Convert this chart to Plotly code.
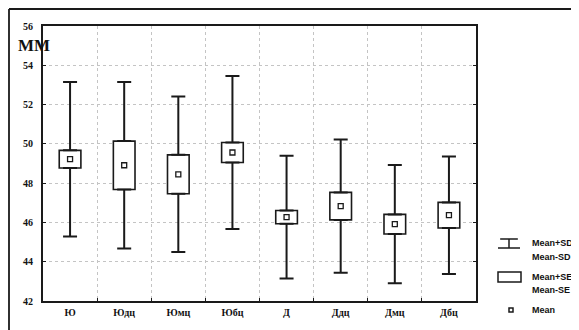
import plotly.graph_objects as go

categories = ["Ю", "Юдц", "Юмц", "Юбц", "Д", "Ддц", "Дмц", "Дбц"]
means = [49.22, 48.91, 48.45, 49.56, 46.27, 46.83, 45.91, 46.37]
sd = [3.93, 4.24, 3.96, 3.89, 3.12, 3.39, 3.01, 2.99]
se = [0.45, 1.23, 0.99, 0.51, 0.34, 0.70, 0.50, 0.65]
y_ticks = [42, 44, 46, 48, 50, 52, 54, 56]

xpos = [i + 0.5 for i in range(len(categories))]
upper_box = [m + s for m, s in zip(means, se)]
lower_box = [m - s for m, s in zip(means, se)]
upper_whisk = [d - s for d, s in zip(sd, se)]
zeros = [0] * len(categories)

LINE = "#1a1a1a"
fig = go.Figure()

# upper whiskers (box top to mean+SD)
fig.add_trace(go.Scatter(
    x=xpos, y=upper_box, mode="markers", marker=dict(size=1, color="rgba(0,0,0,0)"),
    error_y=dict(type="data", symmetric=False, array=upper_whisk, arrayminus=zeros,
                 color=LINE, thickness=2, width=7),
    showlegend=False, hoverinfo="skip"))
# lower whiskers (mean-SD to box bottom)
fig.add_trace(go.Scatter(
    x=xpos, y=lower_box, mode="markers", marker=dict(size=1, color="rgba(0,0,0,0)"),
    error_y=dict(type="data", symmetric=False, array=zeros, arrayminus=upper_whisk,
                 color=LINE, thickness=2, width=7),
    showlegend=False, hoverinfo="skip"))
# SE boxes
fig.add_trace(go.Bar(
    x=xpos, y=[2 * s for s in se], base=lower_box, width=0.4,
    marker=dict(color="white", line=dict(color=LINE, width=1.6)),
    showlegend=False, hoverinfo="skip"))
# mean markers
fig.add_trace(go.Scatter(
    x=xpos, y=means, mode="markers",
    marker=dict(symbol="square-open", size=5, color=LINE, line=dict(width=1.3)),
    showlegend=False, hoverinfo="skip"))

# page body has an 8px margin, so the figure is 8px smaller
fig.update_layout(
    width=571, height=322,
    margin=dict(l=35, r=103, t=18, b=29, autoexpand=False),
    paper_bgcolor="white", plot_bgcolor="white",
    font=dict(family="Liberation Serif", color="#111"),
    showlegend=False,
)
fig.update_xaxes(
    range=[0, 8], tickvals=xpos, ticktext=categories, showgrid=False,
    ticks="", showline=True, linecolor=LINE, linewidth=2, mirror=True,
    tickfont=dict(family="Liberation Serif", size=10, color="#111", weight="bold"),
    minor=dict(tickvals=[1, 2, 3, 4, 5, 6, 7], showgrid=True, gridcolor="#c4c4c4",
               griddash="dot", gridwidth=1, ticks="inside", ticklen=3, tickcolor=LINE),
    ticklabelstandoff=1, automargin=False,
    zeroline=False, fixedrange=True,
)
fig.update_yaxes(
    range=[42, 56], tickvals=y_ticks, showgrid=True, gridcolor="#c4c4c4",
    griddash="dot", gridwidth=1, ticks="inside", ticklen=3, tickcolor=LINE,
    showline=True, linecolor=LINE, linewidth=2, mirror="ticks",
    tickfont=dict(family="Liberation Serif", size=10, color="#111", weight="bold"),
    ticklabelstandoff=6, automargin=False, zeroline=False, fixedrange=True,
)

def px_x(p):
    return (p - 43) / 433.0

def px_y(p):
    return (301 - p) / 275.0

# outer frame (left and top edges)
fig.add_shape(type="line", xref="paper", yref="paper",
              x0=px_x(9), x1=px_x(9), y0=px_y(9), y1=px_y(330),
              line=dict(color=LINE, width=1.8))
fig.add_shape(type="line", xref="paper", yref="paper",
              x0=px_x(9), x1=px_x(579), y0=px_y(9), y1=px_y(9),
              line=dict(color=LINE, width=1.8))

fig.add_annotation(text="<b>ММ</b>", xref="paper", yref="paper",
                   x=px_x(16), y=px_y(45), xanchor="left", yanchor="middle",
                   showarrow=False, font=dict(family="Liberation Serif", size=17, color="#111"))

# legend icons
lx0, lx1 = px_x(498), px_x(520)
fig.add_shape(type="line", xref="paper", yref="paper", x0=lx0 + 0.005, x1=lx1 - 0.005,
              y0=px_y(239), y1=px_y(239), line=dict(color=LINE, width=1.5))
fig.add_shape(type="line", xref="paper", yref="paper", x0=lx0, x1=lx1,
              y0=px_y(248), y1=px_y(248), line=dict(color=LINE, width=1.5))
fig.add_shape(type="line", xref="paper", yref="paper", x0=px_x(509), x1=px_x(509),
              y0=px_y(239), y1=px_y(248), line=dict(color=LINE, width=1.5))
fig.add_shape(type="rect", xref="paper", yref="paper", x0=px_x(498), x1=px_x(521),
              y0=px_y(282), y1=px_y(272), line=dict(color=LINE, width=1.5))
fig.add_shape(type="rect", xref="paper", yref="paper", x0=px_x(509), x1=px_x(513),
              y0=px_y(312), y1=px_y(308), line=dict(color=LINE, width=1.5))

leg_texts = ["Mean+SD", "Mean-SD", "Mean+SE", "Mean-SE", "Mean"]
leg_y = [243, 257, 277, 290, 310]
for t, yy in zip(leg_texts, leg_y):
    fig.add_annotation(text="<b>" + t + "</b>", xref="paper", yref="paper",
                       x=px_x(530), y=px_y(yy), xanchor="left", yanchor="middle",
                       showarrow=False,
                       font=dict(family="Liberation Sans", size=9, color="#111"))

fig.write_html("out.html")
